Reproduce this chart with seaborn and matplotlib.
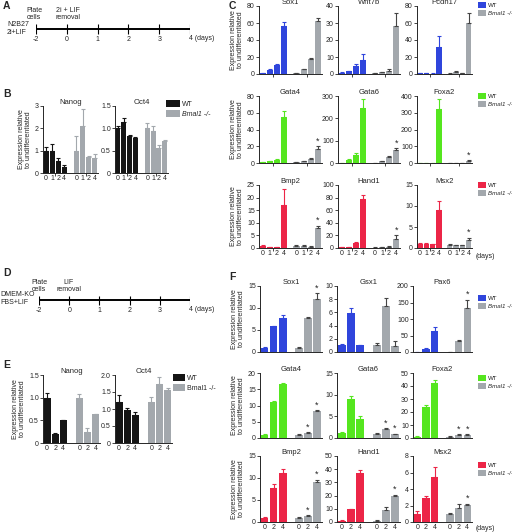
import numpy as np
import pandas as pd
import matplotlib
matplotlib.use("Agg")
import matplotlib.pyplot as plt
import seaborn as sns
from matplotlib.patches import Patch

sns.set_style("ticks")
plt.rcParams["font.family"] = ["Liberation Sans", "DejaVu Sans"]

W, H = 512, 532

BLUE = "#2f45dc"
GREEN = "#55e61f"
RED = "#ec2547"
GRAY = "#a3a8ad"
BLACK = "#151515"
YLAB = "Expression relative\nto undifferentiated"

# ---- data ---------------------------------------------------------------
tl_pos = [-1, 0, 1, 2, 3, 4]
tl_labels = ["-2", "0", "1", "2", "3", ""]

days_4 = ["0", "1", "2", "4"]
days_3 = ["0", "2", "4"]

# panel B (2i+LIF removal), days 0,1,2,4
b_genes = ["Nanog", "Oct4"]
b_wt = [[1.0, 1.0, 0.55, 0.28], [1.0, 1.15, 0.82, 0.78]]
b_ko = [[1.0, 2.1, 0.70, 0.65], [1.0, 0.95, 0.57, 0.72]]
b_wt_err = [[0.15, 0.3, 0.12, 0.07], [0.05, 0.08, 0.02, 0.03]]
b_ko_err = [[0.65, 0.75, 0.08, 0.2], [0.13, 0.1, 0.06, 0.02]]
b_ymax = [3, 1.5]
b_ystep = [1, 0.5]

# panel C, rows: ectoderm / endoderm / mesoderm
c_genes = [["Sox1", "Wnt7b", "Pcdh17"], ["Gata4", "Gata6", "Foxa2"], ["Bmp2", "Hand1", "Msx2"]]
c_wt = [[[1, 5, 11, 57], [0.8, 1.5, 4.5, 8.5], [1, 1, 0.4, 32]],
        [[1, 2, 4, 55], [1, 15, 38, 245], [1, 1, 1, 320]],
        [[0.9, 0.2, 0.2, 17], [1, 1, 8, 78], [1, 1, 0.9, 9]]]
c_ko = [[[1, 5.5, 18, 62], [0.5, 1, 2, 28], [0.5, 2.5, 0.7, 60]],
        [[1, 2, 5, 17], [1, 10, 28, 58], [1, 1, 1, 10]],
        [[0.7, 0.8, 0.3, 7.8], [0.5, 1, 2, 14], [0.8, 0.6, 0.7, 2]]]
c_wt_err = [[[0.3, 0.5, 0.5, 4], [0.2, 0.3, 1.5, 3.5], [0.3, 0.3, 0.2, 13]],
            [[0.3, 0.3, 0.5, 7], [1, 3, 5, 40], [1, 1, 1, 65]],
            [[0.1, 0.1, 0.1, 6.5], [0.5, 0.5, 2, 6], [0.2, 0.2, 0.1, 2.2]]]
c_ko_err = [[[0.3, 0.5, 0.5, 4], [0.2, 0.3, 1.2, 8], [0.2, 1, 0.2, 12]],
            [[0.2, 0.5, 0.5, 3], [0.5, 1, 2, 8], [0.5, 0.5, 0.5, 5]],
            [[0.3, 0.4, 0.3, 1], [0.3, 0.5, 1, 6], [0.1, 0.1, 0.1, 0.5]]]
c_stars = [[[], [], []], [[3], [3], [3]], [[3], [3], [3]]]
c_ymax = [[80, 40, 80], [80, 300, 400], [25, 100, 15]]
c_ystep = [[20, 10, 20], [20, 100, 100], [5, 20, 5]]
c_colors = [BLUE, GREEN, RED]

# panel E (LIF removal), days 0,2,4
e_genes = ["Nanog", "Oct4"]
e_wt = [[1.0, 0.2, 0.5], [1.22, 0.97, 0.83]]
e_ko = [[1.0, 0.25, 0.63], [1.22, 1.73, 1.57]]
e_wt_err = [[0.1, 0.02, 0.01], [0.18, 0.05, 0.07]]
e_ko_err = [[0.07, 0.07, 0.02], [0.12, 0.2, 0.05]]
e_ymax = [1.5, 2.0]
e_ystep = [0.5, 0.5]

# panel F
f_genes = [["Sox1", "Gsx1", "Pax6"], ["Gata4", "Gata6", "Foxa2"], ["Bmp2", "Hand1", "Msx2"]]
f_wt = [[[1, 5.8, 7.8], [1, 5.9, 1], [1, 10, 65]],
        [[1, 11, 16.5], [1.1, 9, 4.5], [1, 24, 42]],
        [[1, 7.7, 11.2], [1, 9.5, 37], [1, 2.9, 5.5]]]
f_ko = [[[1, 7.7, 12], [1, 7, 0.9], [1, 33, 133]],
        [[1, 1.5, 8.3], [1, 2, 0.9], [1, 2.5, 2.5]],
        [[1, 1.3, 9], [1, 9, 20], [1, 1.7, 2.1]]]
f_wt_err = [[[0.1, 0.2, 0.5], [0.2, 0.7, 0.1], [0.5, 3, 12]],
            [[0.1, 0.4, 0.5], [0.3, 0.6, 0.5], [0.3, 1.5, 2.5]],
            [[0.2, 1, 0.9], [0.3, 0.5, 2.5], [0.3, 0.2, 1.2]]]
f_ko_err = [[[0.1, 0.2, 1.3], [0.3, 1.2, 0.7], [0.5, 2, 25]],
            [[0.1, 0.2, 0.3], [0.1, 0.3, 0.1], [0.3, 0.5, 0.5]],
            [[0.1, 0.2, 0.6], [0.3, 2.5, 0.8], [0.05, 0.5, 0.1]]]
f_stars = [[[2], [], [2]], [[1, 2], [1, 2], [1, 2]], [[1, 2], [2], [2]]]
f_ymax = [[15, 10, 200], [20, 15, 50], [15, 50, 8]]
f_ystep = [[5, 2, 50], [5, 5, 10], [5, 10, 2]]

# ---- helpers --------------------------------------------------------------
fig = plt.figure(figsize=(W / 100, H / 100), dpi=100)


def T(x, y, s, **kw):
    kw.setdefault("fontsize", 5)
    kw.setdefault("va", "center")
    fig.text(x / W, 1 - y / H, s, **kw)


def px_axes(x0, top, x1, bot):
    return fig.add_axes([x0 / W, 1 - bot / H, (x1 - x0) / W, (bot - top) / H])


def fmt_tick(v, step):
    if v == 0:
        return "0"
    return f"{v:.1f}" if step < 1 else f"{v:g}"


def bar_panel(ax, title, wt, ko, wt_err, ko_err, days, color, ymax, ystep,
              stars=(), show_x=False, ylabel=False, ko_err_color="#444444", gap=1.0):
    n = len(days)
    pos = [float(i) for i in range(n)] + [n + gap + i for i in range(n)]
    df = pd.DataFrame({"pos": pos, "val": list(wt) + list(ko),
                       "geno": ["WT"] * n + ["KO"] * n})
    sns.barplot(data=df, x="pos", y="val", hue="geno", native_scale=True,
                palette={"WT": color, "KO": GRAY}, dodge=False, width=0.86,
                errorbar=None, legend=False, saturation=1, ax=ax,
                linewidth=0, edgecolor="none")
    ax.errorbar(pos[:n], wt, yerr=[np.zeros(n), wt_err], fmt="none",
                ecolor=color, elinewidth=0.8, capsize=1.3, capthick=0.8)
    ax.errorbar(pos[n:], ko, yerr=[np.zeros(n), ko_err], fmt="none",
                ecolor=ko_err_color, elinewidth=0.8, capsize=1.3, capthick=0.8)
    for i in stars:
        ax.text(pos[n + i], ko[i] + ko_err[i] + ymax * 0.01, "*",
                ha="center", va="bottom", fontsize=6.5)
    ax.set_xlim(-0.5, pos[-1] + 0.55)
    ax.set_ylim(0, ymax)
    yt = np.arange(0, ymax + ystep / 2, ystep)
    ax.set_yticks(yt)
    ax.set_yticklabels([fmt_tick(v, ystep) for v in yt])
    ax.set_xticks(pos)
    ax.set_xticklabels(days * 2 if show_x else [""] * (2 * n))
    ax.set_xticks([(n - 1) / 2, pos[n] + (n - 1) / 2], minor=True)
    ax.tick_params(axis="x", which="major", length=0, pad=1.5, labelsize=5)
    ax.tick_params(axis="x", which="minor", length=2, width=0.6)
    ax.tick_params(axis="y", length=2, width=0.6, pad=1, labelsize=5)
    ax.set_xlabel("")
    ax.set_ylabel(YLAB if ylabel else "", fontsize=5, labelpad=2, linespacing=1.1)
    ax.set_title(title, fontsize=5.5, pad=1.5)
    sns.despine(ax=ax)
    for s in ("left", "bottom"):
        ax.spines[s].set_linewidth(0.7)


def legend_at(x, y, color, italic=True, size=4.4, hlen=1.3):
    handles = [Patch(facecolor=color, edgecolor="none", linewidth=0),
               Patch(facecolor=GRAY, edgecolor="none", linewidth=0)]
    leg = fig.legend(handles, ["WT", "Bmal1 -/-"], loc="upper left",
                     bbox_to_anchor=(x / W, 1 - y / H), frameon=False,
                     fontsize=size, handlelength=hlen, handleheight=1.1,
                     labelspacing=0.4, borderaxespad=0, borderpad=0,
                     handletextpad=0.35)
    if italic:
        leg.get_texts()[1].set_style("italic")


def timeline(x0, x1, y):
    ax = fig.add_axes([x0 / W, 1 - (y + 6) / H, (x1 - x0) / W, 12 / H])
    ax.set_xlim(tl_pos[0], tl_pos[-1])
    ax.set_ylim(-1, 1)
    ax.hlines(0, tl_pos[0], tl_pos[-1], color="black", lw=1.4)
    ax.vlines(tl_pos, -0.75, 0.75, color="black", lw=0.8)
    ax.axis("off")
    for p, lab in zip(tl_pos, tl_labels):
        ax.text(p, -1.15, lab, ha="center", va="top", fontsize=5, clip_on=False)
    T(x1 - 1, y + 9.5, "4 (days)", ha="left")


# ---- panel A / D timelines ------------------------------------------------
T(3, 6, "A", fontsize=7.5, fontweight="bold")
T(7, 24, "N2B27", ha="left")
T(7, 33, "2i+LIF", ha="left")
T(34, 14, "Plate\ncells", ha="center", linespacing=1.0)
T(68, 14, "2i + LIF\nremoval", ha="center", linespacing=1.0)
timeline(36, 190, 29)

T(3, 273, "D", fontsize=7.5, fontweight="bold")
T(0, 294, "DMEM-KO", ha="left")
T(0, 302, "FBS+LIF", ha="left")
T(39, 286, "Plate\ncells", ha="center", linespacing=1.0)
T(69, 286, "LIF\nremoval", ha="center", linespacing=1.0)
timeline(39, 190, 300)

# ---- panel B ----------------------------------------------------------------
T(3, 94, "B", fontsize=7.5, fontweight="bold")
for j, (x0, x1) in enumerate([(43, 98), (115, 168)]):
    ax = px_axes(x0, 106, x1, 173)
    bar_panel(ax, b_genes[j], b_wt[j], b_ko[j], b_wt_err[j], b_ko_err[j],
              days_4, BLACK, b_ymax[j], b_ystep[j], show_x=True,
              ylabel=(j == 0), ko_err_color=GRAY, gap=1.0)
legend_at(166, 100, BLACK, size=5, hlen=2.0)

# ---- panel E ----------------------------------------------------------------
T(3, 365, "E", fontsize=7.5, fontweight="bold")
for j, (x0, x1) in enumerate([(43, 100), (115, 172)]):
    ax = px_axes(x0, 375, x1, 443)
    bar_panel(ax, e_genes[j], e_wt[j], e_ko[j], e_wt_err[j], e_ko_err[j],
              days_3, BLACK, e_ymax[j], e_ystep[j], show_x=True,
              ylabel=(j == 0), ko_err_color=GRAY, gap=1.0)
legend_at(173, 374, BLACK, italic=False, size=5, hlen=1.7)

# ---- panel C ----------------------------------------------------------------
T(229, 6, "C", fontsize=7.5, fontweight="bold")
c_cols = [(259, 322), (338, 400), (417, 472)]
c_rows = [(6, 74), (96, 163), (185, 248)]
c_leg_y = [2, 93, 182]
for i, (top, bot) in enumerate(c_rows):
    for j, (x0, x1) in enumerate(c_cols):
        ax = px_axes(x0, top, x1, bot)
        bar_panel(ax, c_genes[i][j], c_wt[i][j], c_ko[i][j], c_wt_err[i][j],
                  c_ko_err[i][j], days_4, c_colors[i], c_ymax[i][j], c_ystep[i][j],
                  stars=c_stars[i][j], show_x=(i == 2), ylabel=(j == 0), gap=0.7)
    legend_at(478, c_leg_y[i], c_colors[i])
T(476, 256, "(days)", ha="left")

# ---- panel F ----------------------------------------------------------------
T(229, 277, "F", fontsize=7.5, fontweight="bold")
f_cols = [(260, 322), (337, 400), (413, 472)]
f_rows = [(286, 352), (373, 438), (456, 522)]
f_leg_y = [295, 375, 462]
for i, (top, bot) in enumerate(f_rows):
    for j, (x0, x1) in enumerate(f_cols):
        ax = px_axes(x0, top, x1, bot)
        bar_panel(ax, f_genes[i][j], f_wt[i][j], f_ko[i][j], f_wt_err[i][j],
                  f_ko_err[i][j], days_3, c_colors[i], f_ymax[i][j], f_ystep[i][j],
                  stars=f_stars[i][j], show_x=(i == 2), ylabel=(j == 0), gap=0.8)
    legend_at(478, f_leg_y[i], c_colors[i])
T(476, 529, "(days)", ha="left")

fig.savefig("out.png", dpi=100)
